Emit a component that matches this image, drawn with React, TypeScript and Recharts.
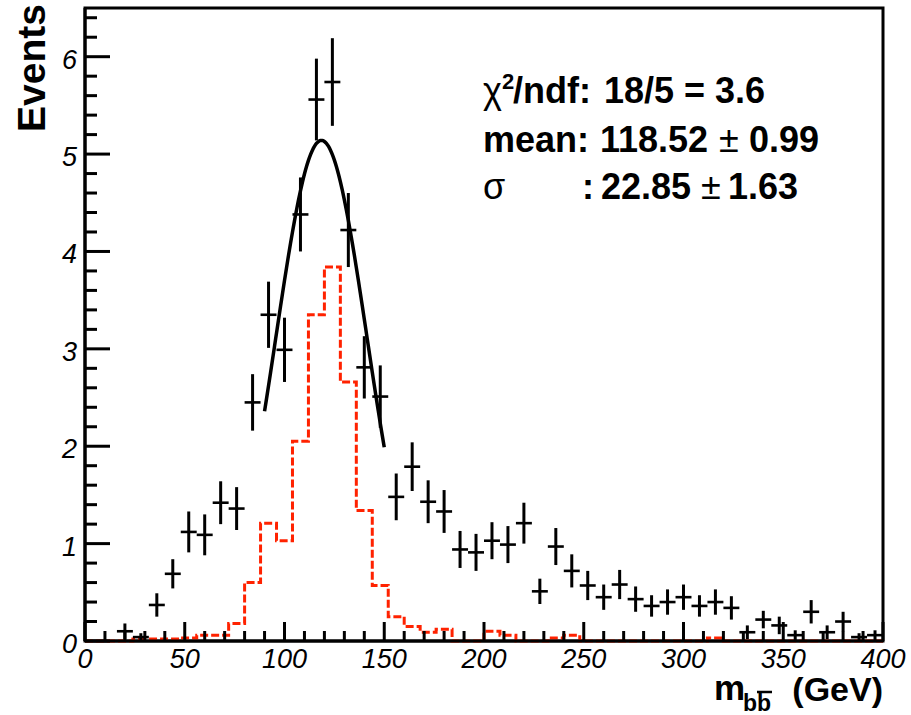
import {
  ComposedChart,
  Line,
  Scatter,
  ErrorBar,
  XAxis,
  YAxis,
  ReferenceArea,
} from 'recharts';

// bin centres of the measured m_bb distribution (8 GeV bins)
const binCenters = [
  20, 28, 36, 44, 52, 60, 68, 76, 84, 92, 100, 108, 116, 124, 132, 140, 148, 156,
  164, 172, 180, 188, 196, 204, 212, 220, 228, 236, 244, 252, 260, 268, 276, 284,
  292, 300, 308, 316, 324, 332, 340, 348, 356, 364, 372, 380, 388, 396,
];
const eventCounts = [
  0.1, 0.04, 0.37, 0.69, 1.12, 1.09, 1.42, 1.36, 2.45, 3.35, 2.99, 4.38, 5.56, 5.74,
  4.22, 2.81, 2.51, 1.48, 1.79, 1.43, 1.33, 0.94, 0.91, 1.03, 0.99, 1.21, 0.51, 0.97,
  0.72, 0.57, 0.45, 0.58, 0.43, 0.36, 0.4, 0.45, 0.36, 0.4, 0.34, 0.09, 0.22, 0.16,
  0.06, 0.3, 0.09, 0.2, 0.04, 0.06,
];
const eventErrors = [
  0.08, 0.04, 0.12, 0.15, 0.21, 0.21, 0.22, 0.22, 0.29, 0.34, 0.33, 0.38, 0.42, 0.45,
  0.38, 0.32, 0.32, 0.24, 0.25, 0.22, 0.22, 0.19, 0.19, 0.19, 0.19, 0.21, 0.13, 0.19,
  0.17, 0.15, 0.13, 0.15, 0.13, 0.11, 0.13, 0.13, 0.11, 0.13, 0.12, 0.07, 0.09, 0.09,
  0.05, 0.12, 0.07, 0.1, 0.04, 0.05,
];
const binHalfWidth = 4;

// truth-matched signal histogram, low edges 0..392 GeV
const signalEdges = Array.from({ length: 51 }, (_, i) => i * 8);
const signalCounts = [
  0, 0, 0, 0.02, 0.02, 0.02, 0.03, 0.06, 0.06, 0.18, 0.6, 1.21, 1.03, 2.05, 3.35, 3.84,
  2.66, 1.34, 0.57, 0.25, 0.15, 0.09, 0.12, 0, 0, 0.1, 0.06, 0, 0, 0.03, 0.06, 0, 0, 0,
  0, 0, 0, 0, 0, 0.03, 0, 0, 0, 0, 0, 0, 0, 0, 0, 0,
];

// gaussian fit result
const fitConstant = 5.14;
const fitMean = 118.52;
const fitSigma = 22.85;
const fitRange = [90, 150];

const xMajorTicks = [0, 50, 100, 150, 200, 250, 300, 350, 400];
const yMajorTicks = [0, 1, 2, 3, 4, 5, 6];
const xTicks = Array.from({ length: 41 }, (_, i) => i * 10);
const yTicks = Array.from({ length: 33 }, (_, i) => (i * 2) / 10);

const points = binCenters.map((x, i) => ({
  x,
  y: eventCounts[i],
  ex: binHalfWidth,
  ey: eventErrors[i],
}));

const signal = signalEdges.map((x, i) => ({
  x,
  mc: i < signalCounts.length ? signalCounts[i] : signalCounts[signalCounts.length - 1],
}));

const fitCurve = Array.from({ length: fitRange[1] - fitRange[0] + 1 }, (_, i) => {
  const x = fitRange[0] + i;
  return {
    x,
    fit: fitConstant * Math.exp(-((x - fitMean) ** 2) / (2 * fitSigma ** 2)),
  };
});

const FONT = '"Liberation Sans", Arial, sans-serif';

const XTick = (props: any) => {
  const { x, y, payload } = props;
  const major = xMajorTicks.includes(payload.value);
  return (
    <g>
      <line x1={x} x2={x} y1={y} y2={y - (major ? 19 : 10)} stroke="#000" strokeWidth={3} />
      {major && (
        <text
          x={x}
          y={y + 27}
          textAnchor="middle"
          fontFamily={FONT}
          fontStyle="italic"
          fontSize={27}
          fill="#000"
        >
          {payload.value}
        </text>
      )}
    </g>
  );
};

const YTick = (props: any) => {
  const { x, y, payload } = props;
  const major = yMajorTicks.some((t) => Math.abs(t - payload.value) < 1e-6);
  return (
    <g>
      <line x1={x} x2={x + (major ? 25 : 12)} y1={y} y2={y} stroke="#000" strokeWidth={3} />
      {major && (
        <text
          x={x - 8}
          y={y + 12}
          textAnchor="end"
          fontFamily={FONT}
          fontStyle="italic"
          fontSize={27}
          fill="#000"
        >
          {Math.round(payload.value)}
        </text>
      )}
    </g>
  );
};

export default function App() {
  return (
    <div style={{ position: 'absolute', left: 0, top: 0, width: 911, height: 715, background: '#fff' }}>
      <ComposedChart width={911} height={715} margin={{ top: 8, right: 28, bottom: 44, left: 25 }}>
        <XAxis
          dataKey="x"
          type="number"
          domain={[0, 400]}
          ticks={xTicks}
          interval={0}
          tickSize={0}
          tickMargin={0}
          tick={<XTick />}
          tickLine={false}
          axisLine={{ stroke: '#000', strokeWidth: 3 }}
        />
        <YAxis
          type="number"
          domain={[0, 6.5]}
          ticks={yTicks}
          interval={0}
          width={60}
          tickSize={0}
          tickMargin={0}
          tick={<YTick />}
          tickLine={false}
          axisLine={{ stroke: '#000', strokeWidth: 3 }}
        />
        <ReferenceArea x1={0} x2={400} y1={0} y2={6.5} fill="none" stroke="#000" strokeWidth={3} />
        <Line
          data={signal}
          dataKey="mc"
          type="stepAfter"
          stroke="#ff2200"
          strokeWidth={3}
          strokeDasharray="8 3"
          dot={false}
          isAnimationActive={false}
        />
        <Scatter data={points} dataKey="y" shape={() => <g />} isAnimationActive={false}>
          <ErrorBar dataKey="ey" direction="y" width={0} stroke="#000" strokeWidth={3} />
          <ErrorBar dataKey="ex" direction="x" width={0} stroke="#000" strokeWidth={2.6} />
        </Scatter>
        <Line
          data={fitCurve}
          dataKey="fit"
          type="monotone"
          stroke="#000"
          strokeWidth={3.5}
          dot={false}
          isAnimationActive={false}
        />
      </ComposedChart>
      <svg
        width={911}
        height={715}
        style={{ position: 'absolute', left: 0, top: 0, pointerEvents: 'none' }}
        fontFamily={FONT}
        fill="#000"
      >
        <text transform="rotate(-90 45 4)" x={45} y={4} textAnchor="end" fontSize={39} fontWeight="bold">
          Events
        </text>
        <text x={714} y={700} fontSize={35} fontWeight="bold">m</text>
        <text x={743} y={711} fontSize={23} fontWeight="bold">bb</text>
        <line x1={757} x2={772} y1={692} y2={692} stroke="#000" strokeWidth={2.5} />
        <text x={883} y={701} textAnchor="end" fontSize={34} fontWeight="bold">(GeV)</text>

        <text y={103} fontSize={36} fontWeight="bold">
          <tspan x={483} fontWeight="normal">χ</tspan>
          <tspan x={502} y={89} fontSize={22}>2</tspan>
          <tspan x={513} y={103}>/ndf:</tspan>
          <tspan x={604}>18/5 = 3.6</tspan>
        </text>
        <text y={152} fontSize={36} fontWeight="bold">
          <tspan x={483}>mean:</tspan>
          <tspan x={600}>118.52</tspan>
          <tspan x={719} fontWeight="normal">±</tspan>
          <tspan x={749}>0.99</tspan>
        </text>
        <text y={199} fontSize={36} fontWeight="bold">
          <tspan x={483} fontWeight="normal">σ</tspan>
          <tspan x={582}>:</tspan>
          <tspan x={601}>22.85</tspan>
          <tspan x={701} fontWeight="normal">±</tspan>
          <tspan x={728}>1.63</tspan>
        </text>
      </svg>
    </div>
  );
}
